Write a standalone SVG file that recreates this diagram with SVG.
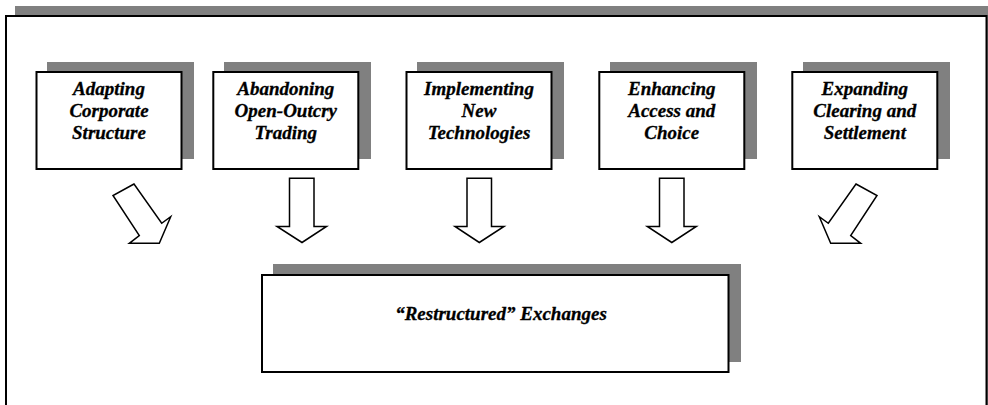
<svg xmlns="http://www.w3.org/2000/svg" width="988" height="405" viewBox="0 0 988 405">
<defs>
<style>
.shadow{fill:#808080;stroke:none}
.box{fill:#fff;stroke:#000;stroke-width:2}
.lbl{text-anchor:middle;fill:#000;stroke:#000;stroke-width:0.3}
.arrow{fill:#fff;stroke:#000;stroke-width:1.5;stroke-linejoin:miter}
</style>
</defs>
<rect width="988" height="405" fill="#fff"/>
<g id="frame">
<rect class="shadow" x="15" y="6" width="980" height="420"/>
<rect class="box" x="6" y="16" width="980.5" height="410"/>
</g>
<g font-family="'Liberation Serif', 'Times New Roman', serif" font-size="19" font-weight="bold" font-style="italic">
<g id="node1">
<rect class="shadow" x="47" y="62" width="147" height="97"/>
<rect class="box" x="36.5" y="72" width="145" height="97"/>
<text class="lbl" x="109" y="95">Adapting</text>
<text class="lbl" x="109" y="117">Corporate</text>
<text class="lbl" x="109" y="139">Structure</text>
</g>
<g id="node2">
<rect class="shadow" x="224" y="62" width="147" height="97"/>
<rect class="box" x="213.3" y="72" width="145" height="97"/>
<text class="lbl" x="285.8" y="95">Abandoning</text>
<text class="lbl" x="285.8" y="117">Open-Outcry</text>
<text class="lbl" x="285.8" y="139">Trading</text>
</g>
<g id="node3">
<rect class="shadow" x="417" y="62" width="147" height="97"/>
<rect class="box" x="406.5" y="72" width="145" height="97"/>
<text class="lbl" x="479" y="95">Implementing</text>
<text class="lbl" x="479" y="117">New</text>
<text class="lbl" x="479" y="139">Technologies</text>
</g>
<g id="node4">
<rect class="shadow" x="610" y="62" width="147" height="97"/>
<rect class="box" x="599.3" y="72" width="145" height="97"/>
<text class="lbl" x="671.8" y="95">Enhancing</text>
<text class="lbl" x="671.8" y="117">Access and</text>
<text class="lbl" x="671.8" y="139">Choice</text>
</g>
<g id="node5">
<rect class="shadow" x="803" y="62" width="147" height="97"/>
<rect class="box" x="792.3" y="72" width="145" height="97"/>
<text class="lbl" x="864.8" y="95">Expanding</text>
<text class="lbl" x="864.8" y="117">Clearing and</text>
<text class="lbl" x="864.8" y="139">Settlement</text>
</g>
<g id="node6">
<rect class="shadow" x="273" y="264" width="468" height="98"/>
<rect class="box" x="262" y="275" width="466.5" height="97"/>
<text class="lbl" x="501" y="320">“Restructured” Exchanges</text>
</g>
</g>
<g id="connectors">
<polygon class="arrow" points="134,184 113,195.5 139.3,235.5 129.3,243.3 159.3,243.3 170.7,216.7 161.7,223.3"/>
<polygon class="arrow" points="289.5,178.3 314,178.3 314,226.5 326.5,226.5 302,242.5 277,226.5 289.5,226.5"/>
<polygon class="arrow" points="467,178.3 491.5,178.3 491.5,226.5 504,226.5 479.3,242.5 455,226.5 467,226.5"/>
<polygon class="arrow" points="659.5,178.3 684,178.3 684,226.5 696.3,226.5 671.8,242.5 647.3,226.5 659.5,226.5"/>
<polygon class="arrow" points="856,184 877,195.5 850.7,235.5 860.7,243.3 830.7,243.3 819.3,216.7 828.3,223.3"/>
</g>
</svg>
